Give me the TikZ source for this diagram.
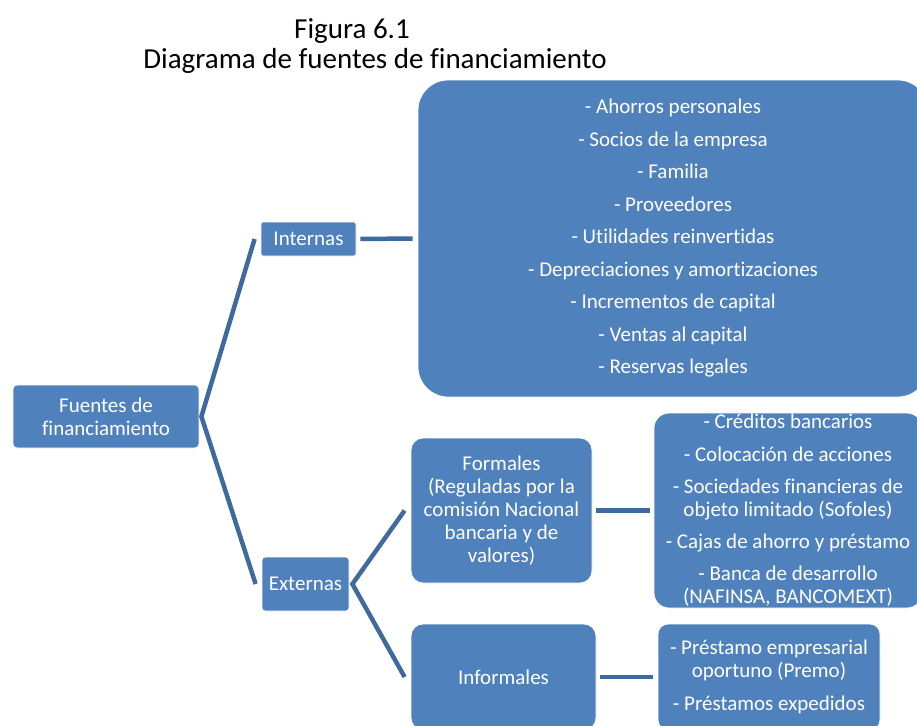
\documentclass[tikz,border=0pt]{standalone}
\usepackage{fontspec}
\setmainfont{Carlito}[Ligatures=NoCommon]
\definecolor{boxblue}{HTML}{4F81BD}
\definecolor{linkblue}{HTML}{3F6A9E}
\begin{document}
\begin{tikzpicture}[x=1pt,y=-1pt,
  box/.style={draw=white,line width=0.8pt,fill=boxblue,text=white,align=center,inner sep=0pt,
    font=\fontsize{21}{23}\selectfont},
  conn/.style={draw=linkblue,line width=4.5pt,line join=miter,line cap=butt},
  titletext/.style={font=\fontsize{29}{32}\selectfont,inner sep=0pt}]
\useasboundingbox (0,0) rectangle (917,725);
\clip (0,0) rectangle (917,725);
% title
\node[titletext] (t1) at (352,31) {Figura 6.1};
\node[titletext] (t2) at (375,61) {Diagrama de fuentes de financiamiento};
% boxes
\node[box,rounded corners=4pt,minimum width=186pt,minimum height=63pt] (fuentes) at (106,416.5) {Fuentes de\\financiamiento};
\node[box,rounded corners=2pt,minimum width=95pt,minimum height=34pt] (internas) at (308.5,239) {Internas};
\node[box,rounded corners=30pt,minimum width=510pt,minimum height=317pt,
  font=\fontsize{21}{32.5}\selectfont] (interlist) at (673,238.5)
  {- Ahorros personales\\- Socios de la empresa\\- Familia\\- Proveedores\\- Utilidades reinvertidas\\- Depreciaciones y amortizaciones\\- Incrementos de capital\\- Ventas al capital\\- Reservas legales};
\node[box,rounded corners=3pt,minimum width=87pt,minimum height=54pt] (externas) at (305.5,584) {Externas};
\node[box,rounded corners=12pt,minimum width=181pt,minimum height=145pt] (formales) at (501.5,510.5)
  {Formales\\(Reguladas por la\\comisión Nacional\\bancaria y de\\valores)};
\node[box,rounded corners=15pt,minimum width=268pt,minimum height=195pt] (credlist) at (788,510.5)
  {- Créditos bancarios\\[9.5pt]- Colocación de acciones\\[9.5pt]- Sociedades financieras de\\objeto limitado (Sofoles)\\[9pt]- Cajas de ahorro y préstamo\\[9pt]- Banca de desarrollo\\(NAFINSA, BANCOMEXT)};
\node[box,rounded corners=12pt,minimum width=185pt,minimum height=106pt] (informales) at (503.5,677) {Informales};
\node[box,rounded corners=10pt,minimum width=222pt,minimum height=106pt] (inflist) at (769,677)
  {- Préstamo empresarial\\oportuno (Premo)\\[10pt]- Préstamos expedidos};
% connectors
\draw[conn] ([xshift=-6pt]internas.west) -- ([xshift=2pt]fuentes.east) -- ([xshift=-6pt]externas.west);
\draw[conn] ([xshift=4pt]internas.east) -- ([xshift=-5pt]interlist.west);
\draw[conn] ([xshift=-6pt]formales.west) -- ([xshift=3pt]externas.east) -- ([xshift=-6pt]informales.west);
\draw[conn] ([xshift=4pt]formales.east) -- ([xshift=-4pt]credlist.west);
\draw[conn] ([xshift=4pt]informales.east) -- ([xshift=-5pt]inflist.west);
\end{tikzpicture}
\end{document}
